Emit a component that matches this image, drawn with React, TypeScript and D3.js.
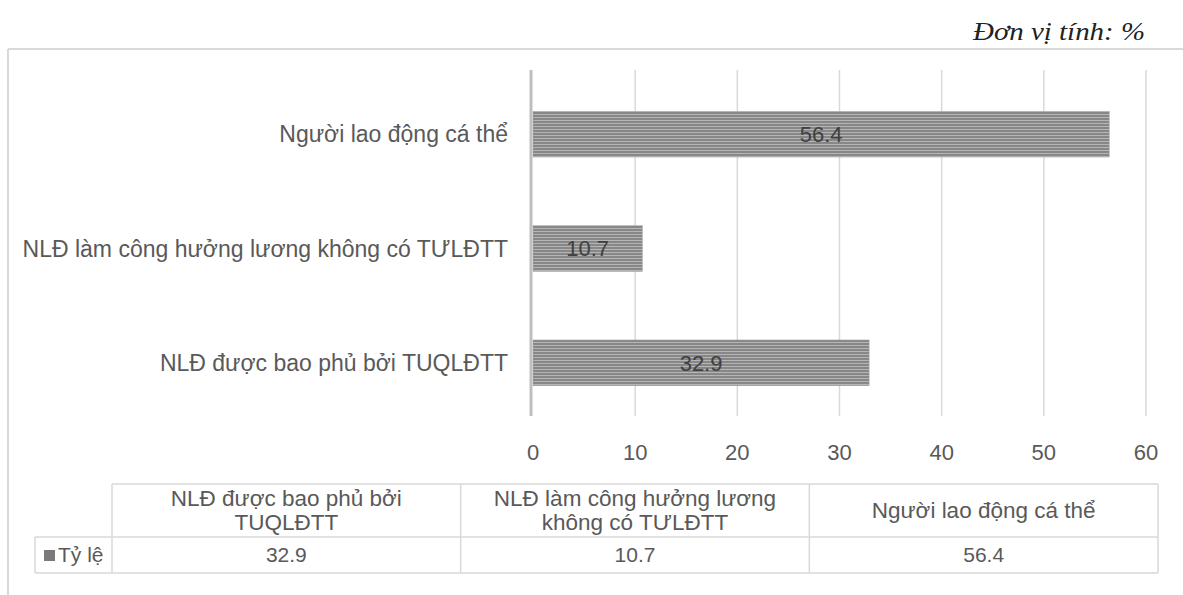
import React from "react";
import * as d3 from "d3";

const categories = [
  "NLĐ được bao phủ bởi TUQLĐTT",
  "NLĐ làm công hưởng lương không có TƯLĐTT",
  "Người lao động cá thể",
];
const tableHeaders = [
  ["NLĐ được bao phủ bởi", "TUQLĐTT"],
  ["NLĐ làm công hưởng lương", "không có TƯLĐTT"],
  ["Người lao động cá thể"],
];
const values = [32.9, 10.7, 56.4];
const xTicks = [0, 10, 20, 30, 40, 50, 60];
const seriesName = "Tỷ lệ";
const unitLabel = "Đơn vị tính: %";

const W = 1183;
const H = 595;
const plot = { left: 533, right: 1146, top: 77, bottom: 420 };
const FONT = "'Liberation Sans', Arial, sans-serif";
const TXT = "#595959";
const GRID = "#d9d9d9";

export default function App() {
  const x = d3.scaleLinear().domain([0, 60]).range([plot.left, plot.right]);
  const y = d3
    .scaleBand<string>()
    .domain([...categories].reverse())
    .range([plot.top, plot.bottom])
    .paddingInner(0.6)
    .paddingOuter(0.3);

  const tableLeft = 112;
  const tableRight = 1158;
  const colW = (tableRight - tableLeft) / categories.length;
  const rowTop = 484;
  const rowMid = 537;
  const rowBot = 573;
  const legendLeft = 35;

  return (
    <svg
      width={W}
      height={H}
      style={{ position: "absolute", left: 0, top: 0, background: "#fff" }}
    >
      <defs>
        <pattern id="stripes" patternUnits="userSpaceOnUse" width="6" height="3">
          <rect width="6" height="3" fill="#878787" />
          <rect width="6" height="1" y="0" fill="#b5b5b5" />
        </pattern>
      </defs>
      <rect width={W} height={H} fill="#fff" />
      <text
        x={1145}
        y={40}
        textAnchor="end"
        fontFamily="'Liberation Serif', 'DejaVu Serif', serif"
        fontStyle="italic"
        fontSize={26}
        textLength={172}
        lengthAdjust="spacingAndGlyphs"
        fill="#222"
      >
        {unitLabel}
      </text>
      {/* frame */}
      <line x1={8} x2={W} y1={49} y2={49} stroke={GRID} strokeWidth={2} />
      <line x1={8} x2={8} y1={49} y2={H} stroke={GRID} strokeWidth={2} />

      {/* gridlines */}
      {xTicks.slice(1).map((t) => (
        <line
          key={t}
          x1={x(t)}
          x2={x(t)}
          y1={70}
          y2={416}
          stroke={GRID}
          strokeWidth={1.5}
        />
      ))}
      {/* bars */}
      {categories.map((c, i) => (
        <g key={c}>
          <rect
            x={x(0)}
            y={y(c)!}
            width={x(values[i]) - x(0)}
            height={y.bandwidth()}
            fill="url(#stripes)"
            stroke="#a0a0a0"
            strokeWidth={0.5}
          />
          <text
            x={(x(0) + x(values[i])) / 2}
            y={y(c)! + y.bandwidth() / 2}
            dy="0.35em"
            textAnchor="middle"
            fontFamily={FONT}
            fontSize={22}
            fill="#404040"
          >
            {values[i]}
          </text>
          <text
            x={508}
            y={y(c)! + y.bandwidth() / 2}
            dy="0.35em"
            textAnchor="end"
            fontFamily={FONT}
            fontSize={23}
            fill={TXT}
          >
            {c}
          </text>
        </g>
      ))}
      {/* axis line */}
      <line x1={531} x2={531} y1={70} y2={416} stroke="#bfbfbf" strokeWidth={3} />
      {/* tick labels */}
      {xTicks.map((t) => (
        <text
          key={t}
          x={x(t)}
          y={452}
          dy="0.35em"
          textAnchor="middle"
          fontFamily={FONT}
          fontSize={22}
          fill={TXT}
        >
          {t}
        </text>
      ))}

      {/* data table */}
      <g stroke={GRID} strokeWidth={1.5} fill="none">
        <line x1={tableLeft} x2={tableRight} y1={rowTop} y2={rowTop} />
        <line x1={legendLeft} x2={tableRight} y1={rowMid} y2={rowMid} />
        <line x1={legendLeft} x2={tableRight} y1={rowBot} y2={rowBot} />
        <line x1={legendLeft} x2={legendLeft} y1={rowMid} y2={rowBot} />
        {d3.range(categories.length + 1).map((k) => (
          <line
            key={k}
            x1={tableLeft + k * colW}
            x2={tableLeft + k * colW}
            y1={rowTop}
            y2={rowBot}
          />
        ))}
      </g>
      {tableHeaders.map((lines, i) => {
        const cx = tableLeft + (i + 0.5) * colW;
        const cy = (rowTop + rowMid) / 2;
        const lh = 24;
        return (
          <text
            key={i}
            textAnchor="middle"
            fontFamily={FONT}
            fontSize={22.5}
            fill={TXT}
          >
            {lines.map((l, j) => (
              <tspan
                key={j}
                x={cx}
                y={cy + (j - (lines.length - 1) / 2) * lh}
                dy="0.35em"
              >
                {l}
              </tspan>
            ))}
          </text>
        );
      })}
      {values.map((v, i) => (
        <text
          key={i}
          x={tableLeft + (i + 0.5) * colW}
          y={(rowMid + rowBot) / 2}
          dy="0.35em"
          textAnchor="middle"
          fontFamily={FONT}
          fontSize={21}
          fill={TXT}
        >
          {v}
        </text>
      ))}
      <rect x={44} y={550} width={11} height={11} fill="#7a7a7a" />
      <text
        x={58}
        y={(rowMid + rowBot) / 2}
        dy="0.35em"
        fontFamily={FONT}
        fontSize={21}
        fill={TXT}
      >
        {seriesName}
      </text>
    </svg>
  );
}
